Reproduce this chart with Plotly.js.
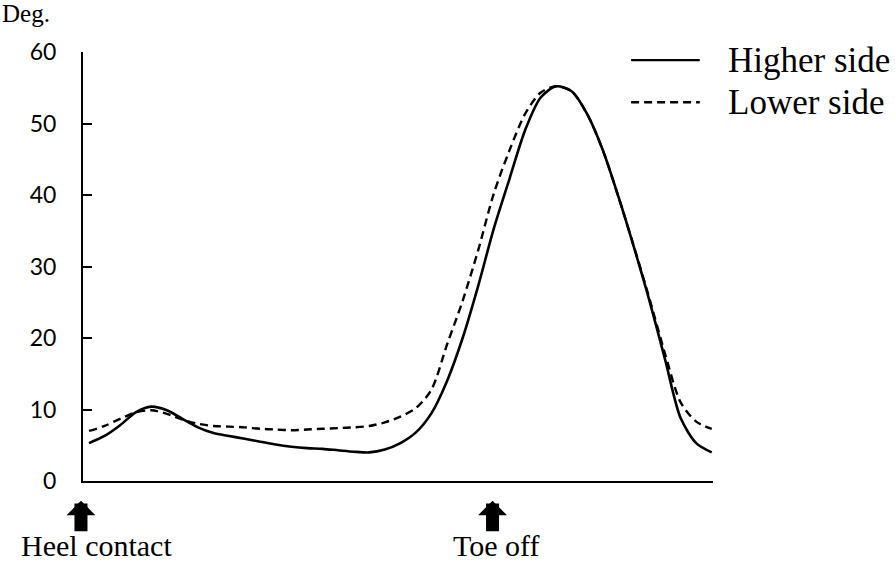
<!DOCTYPE html>
<html>
<head>
<meta charset="utf-8">
<script src="https://cdn.plot.ly/plotly-3.0.1.min.js"></script>
<style>
  html, body { margin: 0; padding: 0; background: #fff; }
  #chart { width: 895px; height: 562px; }
</style>
</head>
<body>
<div id="chart"></div>
<script>
// gait cycle (%) and joint angle (deg)
const gaitCycle = [0, 2.5, 5, 7.5, 10, 12.5, 15, 17.5, 20, 22.5, 25, 27.5, 30, 32.5, 35, 37.5, 40,
    42.5, 45, 47.5, 50, 52.5, 55, 57.5, 60, 62.5, 65, 67.5, 70, 72.5, 75, 77.5, 80, 82.5, 85,
    87.5, 90, 92.5, 95, 97.5, 100];

const higherSide = [5.3, 6.3, 7.8, 9.6, 10.4, 9.9, 8.7, 7.5, 6.7, 6.3, 5.9, 5.5, 5.1, 4.8, 4.6, 4.5, 4.3,
    4.1, 4.0, 4.4, 5.3, 6.8, 9.5, 14.0, 20.0, 27.3, 35.3, 42.2, 49.0, 53.6, 55.2, 54.5, 51.3, 46.3, 39.8,
    32.7, 25.2, 17.0, 8.8, 5.3, 4.0];

const lowerSide = [7.0, 7.7, 8.7, 9.6, 9.9, 9.4, 8.6, 8.0, 7.7, 7.6, 7.5, 7.3, 7.2, 7.1, 7.2, 7.3, 7.4,
    7.5, 7.7, 8.2, 9.0, 10.2, 12.8, 19.1, 25.2, 32.3, 40.2, 46.2, 51.3, 54.3, 55.2, 54.5, 51.3, 46.3, 39.8,
    32.8, 25.5, 17.8, 11.0, 8.3, 7.3];

const seriesNames = ['Higher side', 'Lower side'];
const yTicks = [0, 10, 20, 30, 40, 50, 60];

// gait events marked with arrows under the axis
const eventNames = ['Heel contact', 'Toe off'];
const eventX = [0, 64.8];

const serif = 'Liberation Serif, Times New Roman, serif';

const traces = [
    {
        x: gaitCycle, y: higherSide, name: seriesNames[0],
        type: 'scatter', mode: 'lines',
        line: { color: '#000', width: 2.6, shape: 'spline', smoothing: 0.8 }
    },
    {
        x: gaitCycle, y: lowerSide, name: seriesNames[1],
        type: 'scatter', mode: 'lines',
        line: { color: '#000', width: 2.4, dash: '8px,5px', shape: 'spline', smoothing: 0.8 }
    }
];

const annotations = [];
const shapes = [];

// arrows + labels for gait events (heel contact arrow sits on the axis corner)
const arrowShift = [-8, 0];
const labelShift = [8, 3];
eventX.forEach((ex, i) => {
    annotations.push({
        x: ex, y: -0.046, xref: 'x', yref: 'paper',
        xshift: arrowShift[i],
        text: '', showarrow: true,
        ax: 0, ay: 32, arrowhead: 1, arrowwidth: 13, arrowsize: 0.37,
        arrowcolor: '#000'
    });
    annotations.push({
        x: ex, y: -0.151, xref: 'x', yref: 'paper',
        xanchor: 'center', yanchor: 'middle',
        xshift: labelShift[i],
        text: eventNames[i], showarrow: false,
        font: { family: serif, size: 30, color: '#000' }
    });
});

// unit label
annotations.push({
    x: -0.132, y: 1.125, xref: 'paper', yref: 'paper',
    xanchor: 'left', yanchor: 'top',
    text: 'Deg.', showarrow: false,
    font: { family: serif, size: 25, color: '#000' }
});

// hand-made legend (long line samples like the original)
const legendY = [0.981, 0.883];
seriesNames.forEach((name, i) => {
    shapes.push({
        type: 'line', xref: 'paper', yref: 'paper',
        x0: 0.870, x1: 0.979, y0: legendY[i], y1: legendY[i],
        line: { color: '#000', width: 2.4, dash: i === 0 ? 'solid' : '8px,5px' }
    });
    annotations.push({
        x: 1.02, y: legendY[i], xref: 'paper', yref: 'paper',
        xanchor: 'left', yanchor: 'middle',
        text: name, showarrow: false,
        font: { family: serif, size: 35, color: '#000' }
    });
});

const layout = {
    width: 895, height: 562,
    margin: { l: 83, r: 182, t: 52, b: 81 },
    paper_bgcolor: '#fff', plot_bgcolor: '#fff',
    showlegend: false,
    xaxis: {
        range: [-0.96, 100.2],
        showgrid: false, zeroline: false,
        showline: true, linecolor: '#000', linewidth: 2,
        showticklabels: false, ticks: ''
    },
    yaxis: {
        range: [0, 60],
        tickvals: yTicks,
        showgrid: false, zeroline: false,
        showline: true, linecolor: '#000', linewidth: 2,
        ticks: 'inside', ticklen: 9, tickwidth: 2, tickcolor: '#000',
        ticklabelstandoff: 20,
        tickfont: { family: 'Lato, Carlito, Calibri, sans-serif', size: 23, color: '#000' }
    },
    annotations: annotations,
    shapes: shapes
};

Plotly.newPlot('chart', traces, layout, { displayModeBar: false, staticPlot: true });
</script>
</body>
</html>
